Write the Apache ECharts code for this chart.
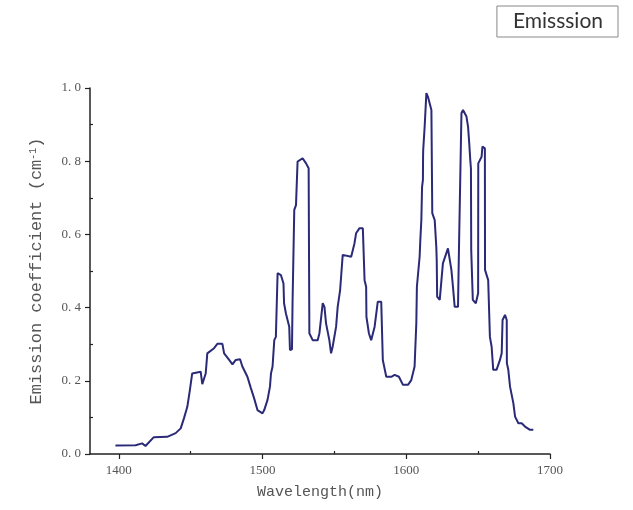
<!DOCTYPE html>
<html>
<head>
<meta charset="utf-8">
<script src="https://cdn.jsdelivr.net/npm/echarts@6/dist/echarts.min.js"></script>
<style>html,body{margin:0;padding:0;background:#fff}#c{width:633px;height:510px}</style>
</head>
<body>
<div id="c"></div>
<script>
// Wavelength (nm) samples
var wavelengths = [1397.7,1411.7,1416.3,1418.6,1424.4,1433.7,1439.6,1443.1,1445.4,1447.7,1449.5,1451.1,1457.0,1458.1,1460.5,1461.6,1466.3,1468.6,1472.1,1473.3,1476.8,1479.1,1481.4,1484.4,1486.0,1489.5,1491.9,1494.2,1496.5,1500.0,1501.2,1503.5,1505.2,1505.9,1507.0,1508.2,1509.3,1510.5,1512.8,1514.6,1515.0,1516.3,1518.6,1519.1,1520.5,1520.9,1522.1,1523.3,1524.4,1527.9,1530.3,1532.1,1532.6,1534.9,1538.4,1539.6,1541.9,1543.1,1544.2,1546.5,1547.7,1548.8,1551.2,1552.3,1554.0,1555.8,1561.7,1564.0,1565.1,1567.5,1569.8,1571.0,1572.1,1572.3,1574.0,1575.6,1578.0,1580.2,1582.6,1583.7,1586.1,1589.6,1591.9,1594.9,1597.7,1601.2,1603.5,1605.8,1607.0,1607.4,1609.3,1609.8,1610.5,1610.9,1611.0,1611.6,1611.7,1611.8,1612.8,1614.0,1615.1,1617.5,1618.1,1619.8,1620.9,1621.2,1621.5,1623.3,1625.5,1629.0,1630.2,1631.4,1632.5,1633.7,1636.0,1636.7,1638.4,1639.5,1641.9,1643.0,1643.8,1644.6,1645.0,1645.2,1646.3,1648.4,1650.0,1650.1,1652.4,1653.0,1654.7,1654.8,1657.0,1658.2,1659.4,1660.5,1662.8,1665.2,1666.4,1667.0,1668.7,1669.9,1670.0,1671.0,1672.2,1674.5,1675.7,1678.0,1680.3,1682.6,1686.1,1688.4];
// Emission coefficient (cm^-1) at each wavelength
var emission = [0.023,0.024,0.029,0.022,0.046,0.047,0.057,0.070,0.098,0.129,0.175,0.220,0.225,0.191,0.220,0.275,0.289,0.301,0.301,0.275,0.257,0.245,0.257,0.259,0.239,0.211,0.180,0.152,0.120,0.111,0.120,0.148,0.184,0.220,0.239,0.311,0.320,0.494,0.489,0.466,0.412,0.384,0.348,0.284,0.286,0.412,0.667,0.680,0.799,0.808,0.794,0.781,0.330,0.311,0.311,0.330,0.412,0.402,0.357,0.311,0.275,0.293,0.348,0.402,0.448,0.544,0.539,0.576,0.603,0.617,0.617,0.475,0.457,0.375,0.330,0.311,0.348,0.416,0.416,0.257,0.211,0.211,0.216,0.211,0.189,0.189,0.202,0.239,0.357,0.457,0.539,0.585,0.639,0.712,0.730,0.749,0.812,0.831,0.894,0.986,0.976,0.940,0.658,0.639,0.566,0.530,0.430,0.421,0.521,0.562,0.557,0.503,0.457,0.402,0.402,0.566,0.931,0.940,0.922,0.894,0.850,0.800,0.780,0.557,0.421,0.412,0.439,0.794,0.812,0.840,0.835,0.503,0.475,0.320,0.293,0.230,0.230,0.257,0.275,0.366,0.380,0.366,0.248,0.230,0.184,0.139,0.102,0.084,0.084,0.075,0.066,0.066];
var xLabelValues = [1400, 1500, 1600, 1700];
var xMinorValues = [1450, 1550, 1650];
var yMinorValues = [0.1, 0.3, 0.5, 0.7, 0.9];
var seriesName = 'Emisssion';

var points = wavelengths.map(function (w, i) { return [w, emission[i]]; });
var axisColor = '#222';
var labelFont = { fontFamily: 'Liberation Serif', fontSize: 13, color: '#555' };

var chart = echarts.init(document.getElementById('c'), null, { renderer: 'canvas' });
chart.setOption({
  animation: false,
  backgroundColor: '#fff',
  grid: { left: 90, right: 83, top: 88, bottom: 56 },
  legend: {
    data: [{ name: seriesName, icon: 'none' }],
    right: 15, top: 6,
    itemWidth: 0, itemHeight: 0, itemGap: 0,
    padding: [5, 15, 5, 16],
    borderColor: '#888', borderWidth: 1,
    textStyle: { fontFamily: 'Lato', fontSize: 21, color: '#333', padding: [0, 0, 0, -5] }
  },
  xAxis: [{
    type: 'value', min: 1380, max: 1700,
    name: 'Wavelength(nm)', nameLocation: 'middle', nameGap: 31,
    nameTextStyle: { fontFamily: 'Liberation Mono', fontSize: 15, color: '#555' },
    axisLine: { show: true, lineStyle: { color: axisColor, width: 1.5 } },
    axisTick: { show: true, inside: false, length: 5, customValues: xLabelValues, lineStyle: { color: axisColor, width: 1.2 } },
    axisLabel: { customValues: xLabelValues, margin: 10, fontFamily: labelFont.fontFamily, fontSize: labelFont.fontSize, color: labelFont.color,
      formatter: function (v) { return String(v); } },
    splitLine: { show: false }
  }, {
    type: 'value', min: 1380, max: 1700, position: 'bottom',
    axisLine: { show: false },
    axisTick: { show: true, inside: true, length: 3, customValues: xMinorValues, lineStyle: { color: axisColor, width: 1.2 } },
    axisLabel: { show: false },
    splitLine: { show: false }
  }],
  yAxis: [{
    type: 'value', min: 0, max: 1.0, interval: 0.2,
    name: 'Emission coefficient (cm{sup|-1})', nameLocation: 'middle', nameGap: 45,
    nameTextStyle: {
      fontFamily: 'Liberation Mono', fontSize: 17, color: '#555',
      rich: { sup: { fontFamily: 'Liberation Mono', fontSize: 10, color: '#555', verticalAlign: 'top', padding: [0, 0, 7, 0] } }
    },
    axisLine: { show: true, lineStyle: { color: axisColor, width: 1.5 } },
    axisTick: { show: true, inside: false, length: 5, lineStyle: { color: axisColor, width: 1.2 } },
    axisLabel: { margin: 9, fontFamily: labelFont.fontFamily, fontSize: labelFont.fontSize, color: labelFont.color,
      formatter: function (v) { return v.toFixed(1).replace('.', '. '); } },
    splitLine: { show: false }
  }, {
    type: 'value', min: 0, max: 1.0, position: 'left',
    axisLine: { show: false },
    axisTick: { show: true, inside: true, length: 3, customValues: yMinorValues, lineStyle: { color: axisColor, width: 1.2 } },
    axisLabel: { show: false },
    splitLine: { show: false }
  }],
  series: [{
    name: seriesName,
    type: 'line',
    xAxisIndex: 0, yAxisIndex: 0,
    data: points,
    showSymbol: false,
    symbol: 'none',
    smooth: false,
    lineStyle: { color: '#2a2a78', width: 2 },
    itemStyle: { color: '#2a2a78' }
  }]
});
</script>
</body>
</html>
